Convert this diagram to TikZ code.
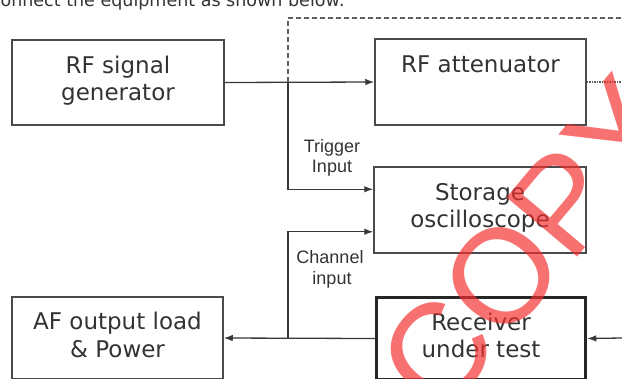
\documentclass[tikz,border=0pt]{standalone}
\usepackage{fontspec}
\setmainfont{DejaVu Sans}
\newfontfamily\labfont{Liberation Sans}
\usetikzlibrary{arrows.meta,calc}
\definecolor{ln}{HTML}{383838}
\definecolor{bx}{HTML}{4A4A4A}
\definecolor{wm}{RGB}{245,45,45}
\begin{document}
\begin{tikzpicture}[x=1bp,y=-1bp,
  box/.style={draw=bx,line width=1.5bp,minimum width=211bp,minimum height=86bp,inner sep=0pt},
  rxbox/.style={draw=black!85,line width=3.5bp,minimum width=209bp,minimum height=82bp,inner sep=0pt},
  boxtext/.style={anchor=base,inner sep=0pt,text=black!80,font=\fontsize{23bp}{27bp}\selectfont},
  labtext/.style={anchor=base,inner sep=0pt,text=black!80,font=\labfont\fontsize{18bp}{21bp}\selectfont},
  wire/.style={draw=ln,line width=1.3bp},
  arr/.style={wire,-{Latex[length=9bp,width=6.5bp]}},
  dashwire/.style={draw=ln!80,line width=1.2bp,dash pattern=on 5bp off 3bp},
  dotwire/.style={draw=ln!80,line width=1.4bp,dash pattern=on 1.5bp off 1bp}]
\useasboundingbox (0,0) rectangle (622,378);
\clip (0,0) rectangle (622,378);

% top sentence (cut off)
\node[anchor=base east,inner sep=0pt,text=black!80,font=\fontsize{17.5bp}{20bp}\selectfont] (top) at (345,6.5) {connect the equipment as shown below:};

% boxes
\node[box,minimum width=212bp,minimum height=85bp] (gen) at (118,82.5) {};
\node[box] (att) at (480.5,82) {};
\node[box,minimum width=212bp] (osc) at (480,210) {};
\node[box,minimum height=82bp] (af) at (117.5,338) {};
\node[rxbox] (rx) at (481,338.5) {};

% box texts
\node[boxtext] (genA) at ([yshift=-34bp]gen.north) {RF signal};
\node[boxtext] (genB) at ([yshift=-61bp]gen.north) {generator};
\node[boxtext] (attA) at ([yshift=-34bp]att.north) {RF attenuator};
\node[boxtext] (oscA) at ([yshift=-34bp]osc.north) {Storage};
\node[boxtext] (oscB) at ([yshift=-61bp]osc.north) {oscilloscope};
\node[boxtext] (afA) at ([yshift=-33bp]af.north) {AF output load};
\node[boxtext] (afB) at ([yshift=-61bp]af.north) {\& Power};
\node[boxtext] (rxA) at ([yshift=-35bp]rx.north) {Receiver};
\node[boxtext] (rxB) at ([yshift=-62bp]rx.north) {under test};

% small labels
\node[labtext] (trigA) at (332,152) {Trigger};
\node[labtext] (trigB) at (332,172) {Input};
\node[labtext] (chA) at (330,263) {Channel};
\node[labtext] (chB) at (332,284) {input};

% junctions and free ends
\coordinate (j1) at (288,82);
\coordinate (j2) at (288,338);
\coordinate (dUp) at (288,18);
\coordinate (dEnd) at (622,18);
\coordinate (attOut) at (622,82);
\coordinate (rxIn) at (622,338);

% connectors
\draw[arr] (gen.east) -- (att.west);
\draw[arr] (j1) |- ([yshift=-23bp]osc.north west);
\draw[dashwire] (j1) -- (dUp) -- (dEnd);
\draw[dotwire] (att.east) -- (attOut);
\draw[arr] (rx.west) -- (af.east);
\draw[arr] (j2) |- ([yshift=22bp]osc.south west);
\draw[arr] (rxIn) -- (rx.east);

% watermark
\node[rotate=50,inner sep=0pt,text=wm,opacity=0.68,font=\labfont\fontsize{134bp}{134bp}\selectfont] (wmark) at (528,244) {COPY};
\end{tikzpicture}
\end{document}
